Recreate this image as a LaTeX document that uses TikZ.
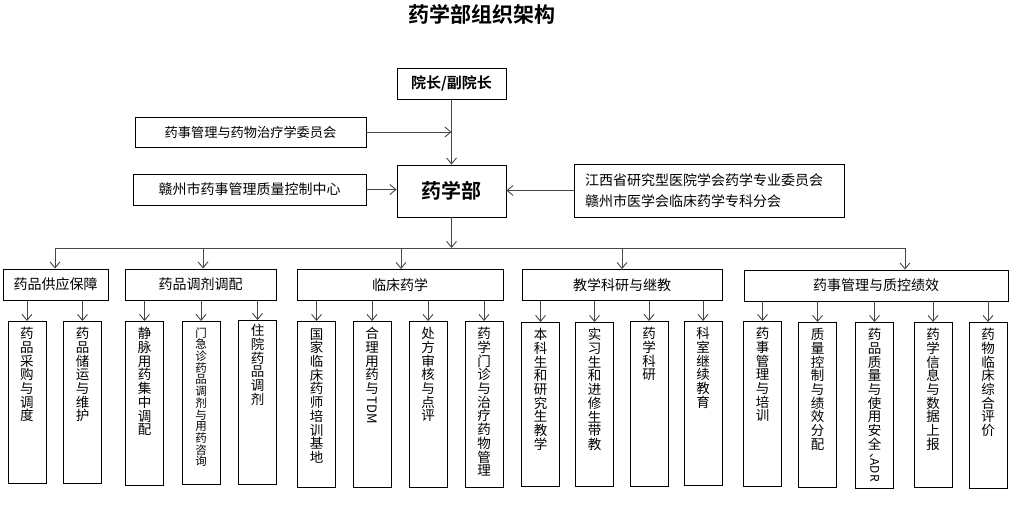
\documentclass[tikz,border=0pt]{standalone}
\usepackage{fontspec}
\setmainfont{Noto Sans CJK SC}[BoldFont={Noto Sans CJK SC Bold}]
\usetikzlibrary{arrows.meta}
\newcommand{\vt}[3][6]{\parbox[t][#2pt][t]{38pt}{\lineskiplimit=-20pt\centering\vspace*{#1pt}#3\par}}
\newcommand{\rot}[3][10.5]{\raisebox{#1pt}{\rotatebox{-90}{\fontsize{#2}{14}\selectfont #3}}}
\tikzset{
  box/.style={draw=black, line width=0.9pt, inner sep=0pt, align=center},
  hb/.style={box, minimum height=31pt, font=\fontsize{14}{16}\selectfont},
  vb/.style={box, anchor=north, font=\fontsize{13.5}{13.7}\selectfont},
  conn/.style={draw=black!72, line width=0.9pt},
  arr/.style={conn, -{Straight Barb[length=6pt,width=10pt]}},
}
\begin{document}
\begin{tikzpicture}[x=1pt,y=-1pt]
\useasboundingbox (0,0) rectangle (1011,508);
% title
\node[font=\bfseries\fontsize{21}{24}\selectfont] (title) at (482,14) {药学部组织架构};
% top part
\node[box, minimum width=109pt, minimum height=31pt, font=\bfseries\fontsize{15}{17}\selectfont] (top) at (451.5,83.5) {院长/副院长};
\node[box, minimum width=109pt, minimum height=52pt, font=\bfseries\fontsize{20}{22}\selectfont] (main) at (451.5,191) {药学部};
\node[box, minimum width=231pt, minimum height=30pt, font=\fontsize{13.2}{15}\selectfont] (c1) at (250.5,132) {药事管理与药物治疗学委员会};
\node[box, minimum width=233pt, minimum height=31pt, font=\fontsize{14}{16}\selectfont] (c2) at (249.5,189.5) {赣州市药事管理质量控制中心};
\node[box, minimum height=53pt, text width=248pt, inner xsep=11pt, align=left, font=\fontsize{14}{21}\selectfont] (r) at (709,190.5) {江西省研究型医院学会药学专业委员会\\赣州市医学会临床药学专科分会};
\draw[arr] (top.south) -- (main.north);
\draw[arr] (c1.east) -- (c1.east -| top.south);
\draw[arr] (c2.east) -- (c2.east -| main.west);
\draw[arr] (r.west) -- (r.west -| main.east);
% second level
\node[hb, minimum width=105pt] (s1) at (55.5,284.5) {药品供应保障};
\node[hb, minimum width=151pt] (s2) at (200.5,284.5) {药品调剂调配};
\node[hb, minimum width=206pt] (s3) at (400,285) {临床药学};
\node[hb, minimum width=200pt] (s4) at (622,285) {教学科研与继教};
\node[hb, minimum width=264pt] (s5) at (876,285.5) {药事管理与质控绩效};
% bus
\coordinate (b1) at (55,248);
\coordinate (b2) at (203,248);
\coordinate (b3) at (401,248);
\coordinate (b4) at (622,248);
\coordinate (b5) at (905,248);
\draw[conn, line cap=rect] (b1) -- (b5);
\draw[arr] (main.south) -- (main.south |- b1);
\draw[arr] (b1) -- (b1 |- s1.north);
\draw[arr] (b2) -- (b2 |- s2.north);
\draw[arr] (b3) -- (b3 |- s3.north);
\draw[arr] (b4) -- (b4 |- s4.north);
\draw[arr] (b5) -- (b5 |- s5.north);
% third level
\node[vb] (t1) at (27,321) {\vt{162}{药\\品\\采\\购\\与\\调\\度}};
\node[vb] (t2) at (82.5,321) {\vt{162}{药\\品\\储\\运\\与\\维\\护}};
\node[vb] (t3) at (144.5,321) {\vt{164}{静\\脉\\用\\药\\集\\中\\调\\配}};
\node[vb, font=\fontsize{11.5}{11.7}\selectfont] (t4) at (201,321) {\vt{163}{门\\急\\诊\\药\\品\\调\\剂\\与\\用\\药\\咨\\询}};
\node[vb] (t5) at (257.5,320) {\vt[4]{164}{住\\院\\药\\品\\调\\剂}};
\node[vb] (t6) at (316.5,321) {\vt[7]{166}{国\\家\\临\\床\\药\\师\\培\\训\\基\\地}};
\node[vb] (t7) at (372,321) {\vt{166}{合\\理\\用\\药\\与\\\rot{13}{TDM}}};
\node[vb] (t8) at (428,321) {\vt{166}{处\\方\\审\\核\\与\\点\\评}};
\node[vb] (t9) at (484,321) {\vt{166}{药\\学\\门\\诊\\与\\治\\疗\\药\\物\\管\\理}};
\node[vb] (t10) at (540.5,322) {\vt{164}{本\\科\\生\\和\\研\\究\\生\\教\\学}};
\node[vb] (t11) at (594.5,322) {\vt{164}{实\\习\\生\\和\\进\\修\\生\\带\\教}};
\node[vb] (t12) at (649,321) {\vt{165}{药\\学\\科\\研}};
\node[vb] (t13) at (703,321) {\vt{164}{科\\室\\继\\续\\教\\育}};
\node[vb] (t14) at (762.5,321) {\vt{165}{药\\事\\管\\理\\与\\培\\训}};
\node[vb] (t15) at (817.5,322) {\vt{165}{质\\量\\控\\制\\与\\绩\\效\\分\\配}};
\node[vb] (t16) at (874.5,322) {\vt{166}{药\\品\\质\\量\\与\\使\\用\\安\\全\\\rot[9.5]{12}{\makebox[5pt][l]{、}ADR}}};
\node[vb] (t17) at (933,322) {\vt{165}{药\\学\\信\\息\\与\\数\\据\\上\\报}};
\node[vb] (t18) at (988,322) {\vt{166}{药\\物\\临\\床\\综\\合\\评\\价}};
% third-level connectors
\foreach \s/\t in {s1/t1,s1/t2,s2/t3,s2/t4,s2/t5,s3/t6,s3/t7,s3/t8,s3/t9,s4/t10,s4/t11,s4/t12,s4/t13,s5/t14,s5/t15,s5/t16,s5/t17,s5/t18}
  \draw[arr] (\t.north |- \s.south) -- (\t.north);
\end{tikzpicture}
\end{document}
